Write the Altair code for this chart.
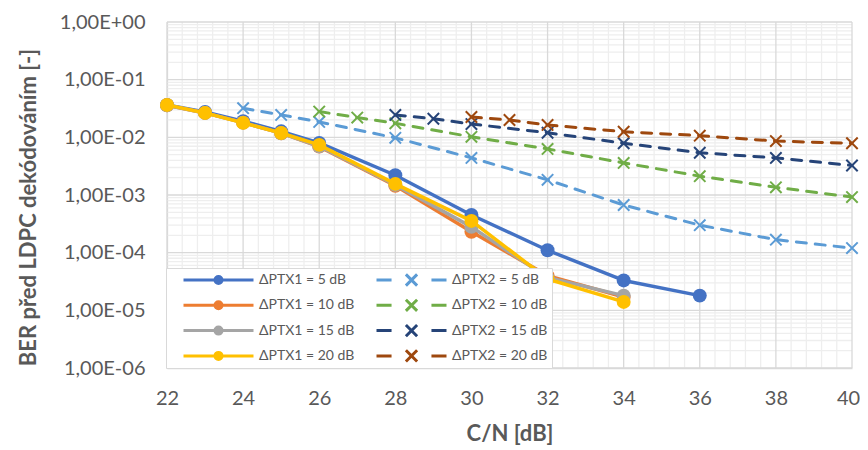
import altair as alt
import pandas as pd

# ---------------- data ----------------
series_names = [
    "ΔPTX1 = 5 dB", "ΔPTX1 = 10 dB", "ΔPTX1 = 15 dB", "ΔPTX1 = 20 dB",
    "ΔPTX2 = 5 dB", "ΔPTX2 = 10 dB", "ΔPTX2 = 15 dB", "ΔPTX2 = 20 dB",
]
series_colors = ["#4472C4", "#ED7D31", "#A5A5A5", "#FFC000",
                 "#5B9BD5", "#70AD47", "#264478", "#9E480E"]

cn_ptx1_5 = [22, 23, 24, 25, 26, 28, 30, 32, 34, 36]
ber_ptx1_5 = [3.65e-2, 2.75e-2, 1.9e-2, 1.27e-2, 8.0e-3, 2.2e-3, 4.5e-4, 1.1e-4, 3.3e-5, 1.8e-5]
cn_ptx1_10 = [22, 23, 24, 25, 26, 28, 30, 32, 34]
ber_ptx1_10 = [3.6e-2, 2.65e-2, 1.8e-2, 1.18e-2, 6.9e-3, 1.45e-3, 2.3e-4, 4.0e-5, 1.7e-5]
cn_ptx1_15 = [22, 23, 24, 25, 26, 28, 30, 32, 34]
ber_ptx1_15 = [3.6e-2, 2.65e-2, 1.8e-2, 1.18e-2, 7.0e-3, 1.5e-3, 2.8e-4, 3.7e-5, 1.8e-5]
cn_ptx1_20 = [22, 23, 24, 25, 26, 28, 30, 32, 34]
ber_ptx1_20 = [3.65e-2, 2.65e-2, 1.78e-2, 1.19e-2, 7.4e-3, 1.56e-3, 3.55e-4, 3.5e-5, 1.4e-5]

cn_ptx2_5 = [24, 25, 26, 28, 30, 32, 34, 36, 38, 40]
ber_ptx2_5 = [3.2e-2, 2.45e-2, 1.85e-2, 9.8e-3, 4.4e-3, 1.83e-3, 6.7e-4, 3.0e-4, 1.68e-4, 1.2e-4]
cn_ptx2_10 = [26, 27, 28, 30, 32, 34, 36, 38, 40]
ber_ptx2_10 = [2.8e-2, 2.2e-2, 1.75e-2, 1.02e-2, 6.3e-3, 3.6e-3, 2.12e-3, 1.36e-3, 9.2e-4]
cn_ptx2_15 = [28, 29, 30, 32, 34, 36, 38, 40]
ber_ptx2_15 = [2.45e-2, 2.1e-2, 1.7e-2, 1.2e-2, 7.9e-3, 5.4e-3, 4.4e-3, 3.25e-3]
cn_ptx2_20 = [30, 31, 32, 34, 36, 38, 40]
ber_ptx2_20 = [2.25e-2, 2.0e-2, 1.64e-2, 1.25e-2, 1.07e-2, 8.6e-3, 7.9e-3]

x_ticks = [22, 24, 26, 28, 30, 32, 34, 36, 38, 40]
y_ticks = [1e-6, 1e-5, 1e-4, 1e-3, 1e-2, 1e-1, 1]

all_cn = [cn_ptx1_5, cn_ptx1_10, cn_ptx1_15, cn_ptx1_20, cn_ptx2_5, cn_ptx2_10, cn_ptx2_15, cn_ptx2_20]
all_ber = [ber_ptx1_5, ber_ptx1_10, ber_ptx1_15, ber_ptx1_20, ber_ptx2_5, ber_ptx2_10, ber_ptx2_15, ber_ptx2_20]

rows = []
for name, xs, ys in zip(series_names, all_cn, all_ber):
    for xv, yv in zip(xs, ys):
        rows.append({"cn": xv, "ber": yv, "series": name})
df = pd.DataFrame(rows)

# grid positions (axis decoration)
x_minor = [round(22 + 0.4 * i, 1) for i in range(46) if i % 5]
y_minor = [m * 10.0 ** (-k) for k in range(1, 7) for m in range(2, 10)]

# ---------------- styling ----------------
FONT = "Lato"
TXT = "#595959"
PATH1 = "M-1,0L1,0M0.1,0A0.1,0.1,0,1,1,-0.1,0A0.1,0.1,0,1,1,0.1,0Z"
PATH2 = "M-1,0L-0.57,0M0.57,0L1,0M-0.16,-0.16L0.16,0.16M-0.16,0.16L0.16,-0.16"
legend_shapes = [PATH1 if "PTX1" in s else PATH2 for s in series_names]
XPATH = "M-1,-1L1,1M-1,1L1,-1"

xscale = alt.Scale(domain=[22, 40], nice=False, zero=False)
yscale = alt.Scale(type="log", domain=[1e-6, 1], nice=False)
cscale = alt.Scale(domain=series_names, range=series_colors)

leg = alt.Legend(
    title=None, orient="none", legendX=-1, legendY=246, columns=2,
    columnPadding=8, rowPadding=9.3, clipHeight=16, padding=4,
    symbolSize=4900, symbolStrokeWidth=3, symbolOffset=12, labelOffset=4,
    labelFont=FONT, labelFontSize=14, labelColor=TXT, labelLimit=0,
    fillColor="white", strokeColor="#d9d9d9", symbolOpacity=1,
)

x_axis = alt.Axis(
    values=x_ticks, grid=False, ticks=False, tickSize=0, labelPadding=20,
    labelFlush=False, labelOverlap=False,
    labelOffset={"condition": {"test": "datum.value == 40", "value": -4}, "value": 0},
    labelFont=FONT, labelFontSize=20, labelColor=TXT,
    domainColor="#d9d9d9", domainWidth=1.3,
    title="C/N [dB]", titleFont=FONT, titleFontSize=22, titleFontWeight="bold",
    titleColor=TXT, titleX=342.5, titleY=65, titleBaseline="middle", titleAlign="center",
)
y_axis = alt.Axis(
    values=y_ticks, grid=False, ticks=False, tickSize=0, labelPadding=22,
    labelFlush=False, labelOverlap=False,
    labelFont=FONT, labelFontSize=20, labelColor=TXT,
    labelExpr="'1,00E' + (datum.value >= 1 ? '+' : '-') + (abs(round(log(datum.value)/LN10)) < 10 ? '0' : '') + abs(round(log(datum.value)/LN10))",
    domainColor="#d9d9d9", domainWidth=1.3,
    title="BER před LDPC dekódováním [-]", titleFont=FONT, titleFontSize=22,
    titleFontWeight="bold", titleColor=TXT, titleX=-139, titleY=185,
    titleAngle=270, titleBaseline="middle", titleAlign="center",
)

X = lambda f: alt.X(f, scale=xscale, axis=x_axis)
Y = lambda f: alt.Y(f, scale=yscale, axis=y_axis)

base = alt.Chart(df)

# gridlines
grid_x_minor = alt.Chart(pd.DataFrame({"cn": x_minor})).mark_rule(color="#eeeeee", strokeWidth=1.3).encode(x=X("cn:Q"))
grid_y_minor = alt.Chart(pd.DataFrame({"ber": y_minor})).mark_rule(color="#eeeeee", strokeWidth=1.3).encode(y=Y("ber:Q"))
grid_x_major = alt.Chart(pd.DataFrame({"cn": x_ticks})).mark_rule(color="#d9d9d9", strokeWidth=1.3).encode(x=X("cn:Q"))
grid_y_major = alt.Chart(pd.DataFrame({"ber": y_ticks})).mark_rule(color="#d9d9d9", strokeWidth=1.3).encode(y=Y("ber:Q"))

# legend-only layer (draws nothing, provides the legend)
legend_layer = base.transform_filter("false").mark_point(filled=True, opacity=1).encode(
    x=X("cn:Q"),
    y=Y("ber:Q"),
    color=alt.Color("series:N", scale=cscale, legend=leg),
    stroke=alt.Stroke("series:N", scale=cscale, legend=leg),
    shape=alt.Shape("series:N", scale=alt.Scale(domain=series_names, range=legend_shapes), legend=leg),
)

layers = [grid_x_minor, grid_y_minor, grid_x_major, grid_y_major, legend_layer]
for name in series_names:
    sub = base.transform_filter(alt.datum.series == name)
    enc = dict(
        x=X("cn:Q"),
        y=Y("ber:Q"),
        color=alt.Color("series:N", scale=cscale, legend=None),
    )
    if "PTX1" in name:
        line = sub.mark_line(strokeWidth=3.5, strokeJoin="round", strokeCap="round").encode(**enc)
        pts = sub.mark_point(filled=True, shape="circle", size=195, opacity=1).encode(**enc)
    else:
        line = sub.mark_line(strokeWidth=3, strokeDash=[10, 9], strokeCap="round").encode(**enc)
        pts = sub.mark_point(filled=False, shape=XPATH, size=130, strokeWidth=2, opacity=1).encode(**enc)
    layers += [line, pts]

chart = alt.layer(*layers).properties(
    width=685, height=346,
    autosize=alt.AutoSizeParams(type="none"),
    padding={"left": 159, "top": 14, "right": 8, "bottom": 78},
).configure_view(stroke=None)

chart.save("out.html", embed_options={"renderer": "svg", "actions": False})
